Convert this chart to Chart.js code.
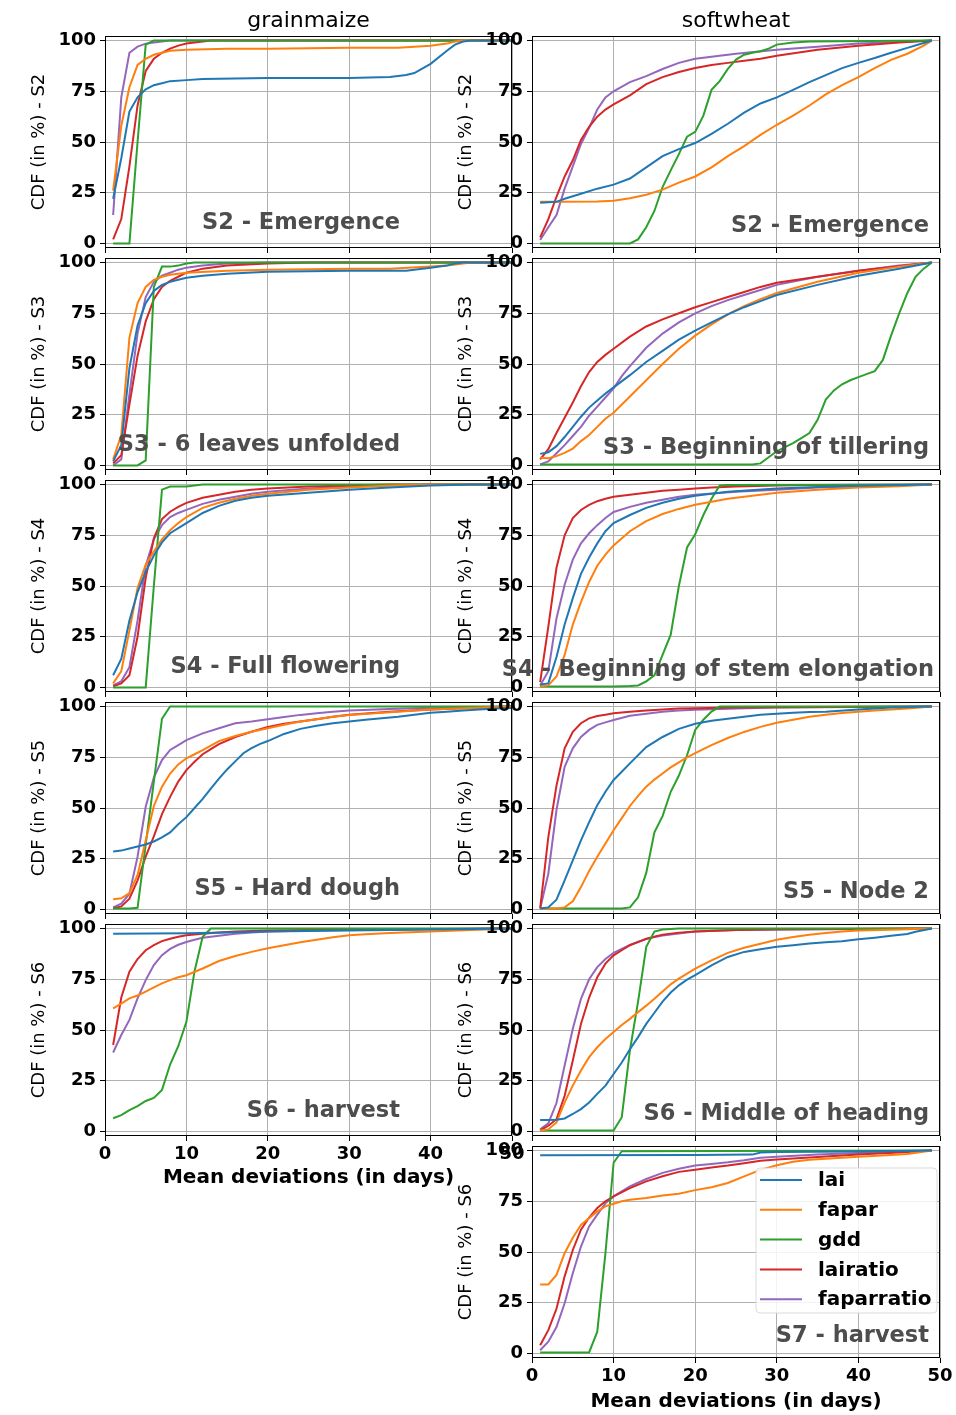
<!DOCTYPE html>
<html><head><meta charset="utf-8">
<script src="https://cdn.jsdelivr.net/npm/chart.js@4.4.1/dist/chart.umd.min.js"></script>
<style>
html,body{margin:0;padding:0;background:#fff;}
body{width:956px;height:1415px;overflow:hidden;position:relative;}
canvas{position:absolute;}
</style></head><body>
<script>
// ---------- labels / ticks ----------
const seriesNames = ['lai','fapar','gdd','lairatio','faparratio'];
const seriesColors = ['#1f77b4','#ff7f0e','#2ca02c','#d62728','#9467bd'];
const xTicks = [0,10,20,30,40,50];
const yTicks = [0,25,50,75,100];
const columnTitles = ['grainmaize','softwheat'];
const xAxisTitle = 'Mean deviations (in days)';

// ---------- grainmaize ----------
const gmS2Lai = [[1,22],[2,42],[3,65],[4,72],[5,76],[6,78],[7,79],[8,80],[10,80.5],[12,81],[20,81.5],[30,81.5],[35,82],[37,83],[38,84],[40,88.5],[42,95],[43,98],[44,99.5],[45,100],[50,100]];
const gmS2Fapar = [[1,26],[2,58],[3,77],[4,88],[5,91],[6,93],[7,94],[8,95],[10,95.5],[15,96],[20,96],[30,96.5],[36,96.5],[38,97],[40,97.5],[42,98.5],[43,99.5],[44,100],[50,100]];
const gmS2Gdd = [[1,0],[2,0],[3,0],[4,50],[5,98],[6,100],[50,100]];
const gmS2Lairatio = [[1,2],[2,12],[3,38],[4,68],[5,85],[6,91],[7,94],[8,96],[9,97.5],[10,98.5],[11,99],[12,99.5],[13,100],[50,100]];
const gmS2Faparratio = [[1,14],[2,72],[3,94],[4,97],[5,98.5],[6,99],[7,99.5],[8,100],[50,100]];

const gmS3Lai = [[1,2],[2,10],[3,48],[4,69],[5,80],[6,86],[7,89],[8,90.5],[9,91.5],[10,92.5],[12,93.5],[15,94.5],[20,95.5],[30,96],[37,96],[40,97.5],[42,98.5],[43,99.5],[44,100],[50,100]];
const gmS3Fapar = [[1,3],[2,15],[3,63],[4,80],[5,88],[6,91.5],[7,93],[8,94],[9,94.5],[10,95],[15,96],[20,96.5],[30,97],[35,97],[40,98],[42,98.5],[44,99.5],[45,100],[50,100]];
const gmS3Gdd = [[1,0],[2,0],[3,0],[4,0],[5,2.5],[6,88],[7,98],[8,98],[9,98.5],[10,99.5],[11,100],[50,100]];
const gmS3Lairatio = [[1,1],[2,5],[3,30],[4,54],[5,71],[6,82],[7,88],[8,91],[9,93],[10,95],[12,97],[15,98.5],[20,99.5],[25,100],[50,100]];
const gmS3Faparratio = [[1,0],[2,3],[3,35],[4,65],[5,83],[6,90.5],[7,93.5],[8,95],[9,96.5],[10,97.5],[12,98.5],[15,99.5],[20,100],[50,100]];

const gmS4Lai = [[1,6],[2,14],[3,33],[4,47],[5,57],[6,65],[7,71.5],[8,76],[9,78.5],[10,81],[12,86],[14,89.5],[16,92],[18,93.5],[20,94.5],[25,96],[30,97.5],[35,98.5],[40,99.5],[45,100],[50,100]];
const gmS4Fapar = [[1,2],[2,8],[3,28],[4,49],[5,60.5],[6,67],[7,73],[8,77.5],[9,81],[10,84],[12,88.5],[14,91],[16,93],[18,94.5],[20,95.5],[25,97.5],[30,98.5],[35,99.5],[40,100],[50,100]];
const gmS4Gdd = [[1,0],[2,0],[3,0],[4,0],[5,0],[6,50],[7,97.5],[8,99],[10,99],[11,99.5],[12,100],[50,100]];
const gmS4Lairatio = [[1,0.5],[2,2],[3,6],[4,25],[5,54],[6,73.5],[7,83],[8,86.6],[9,89],[10,91],[12,93.5],[14,95],[16,96.5],[18,97.5],[20,98],[25,99],[30,99.5],[35,100],[50,100]];
const gmS4Faparratio = [[1,1],[2,3],[3,10],[4,33],[5,60],[6,73],[7,80],[8,84],[9,86],[10,87.5],[12,90.5],[14,92.5],[16,94],[18,95.5],[20,96.5],[25,98],[30,99],[35,99.5],[40,100],[50,100]];

const gmS5Lai = [[1,28.5],[2,29],[3,30],[4,31],[5,32],[6,33.5],[7,35.5],[8,38],[9,42],[10,45.5],[11,50],[12,54.5],[13,59.5],[14,64.5],[15,69],[16,73],[17,77],[18,79.5],[19,81.5],[20,83],[22,86.5],[24,89],[26,90.5],[28,91.8],[30,92.6],[32,93.5],[34,94.2],[36,95],[38,96],[40,97],[42,97.5],[44,98],[46,98.5],[48,99],[50,99.3]];
const gmS5Fapar = [[1,5],[2,5.5],[3,8],[4,17],[5,34],[6,51],[7,60.5],[8,67],[9,71.5],[10,74.5],[11,76.5],[12,78.5],[14,83],[16,85.5],[18,87.6],[20,89.3],[22,91],[24,92.6],[26,93.8],[28,95],[30,95.8],[35,97.2],[40,98.5],[45,99.3],[50,100]];
const gmS5Gdd = [[1,0.5],[2,0.5],[3,0.5],[4,0.8],[5,32],[6,63],[7,94],[8,100],[50,100]];
const gmS5Lairatio = [[1,0.5],[2,1.5],[3,5.3],[4,14.3],[5,26],[6,36],[7,47],[8,55.5],[9,63],[10,68.7],[11,72.8],[12,76.5],[13,79],[14,81.5],[16,85],[18,87.6],[20,90],[22,91.5],[24,92.6],[26,93.8],[28,95],[30,96],[35,97.5],[40,98.5],[45,99.3],[50,100]];
const gmS5Faparratio = [[1,1],[2,2.8],[3,7.7],[4,26],[5,50.6],[6,65],[7,73.6],[8,78.6],[9,81],[10,83.5],[12,86.8],[14,89.3],[16,91.8],[18,92.6],[20,93.7],[22,94.8],[24,95.9],[26,96.7],[28,97.5],[30,98],[35,98.8],[40,99.4],[45,99.7],[50,100]];

const gmS6Lai = [[1,97.5],[10,97.7],[15,98],[20,98.5],[30,99],[40,99.5],[50,100]];
const gmS6Fapar = [[1,60.7],[2,63],[3,65.6],[4,67],[5,68.9],[6,71],[7,73],[8,74.6],[9,76],[10,77],[12,80.3],[14,84],[16,86.5],[18,88.5],[20,90.3],[22,91.8],[24,93.2],[26,94.5],[28,95.7],[30,96.7],[32,97.2],[35,97.8],[40,98.6],[45,99.3],[50,100]];
const gmS6Gdd = [[1,6.5],[2,8],[3,10.5],[4,12.5],[5,15],[6,16.5],[7,20.5],[8,33],[9,42],[10,54],[11,79],[12,96],[13,100],[50,100]];
const gmS6Lairatio = [[1,42.6],[2,66],[3,78.7],[4,85],[5,89.3],[6,91.8],[7,93.8],[8,95],[9,96],[10,96.7],[12,97.5],[14,98],[16,98.5],[20,99],[30,99.5],[50,100]];
const gmS6Faparratio = [[1,38.9],[2,47.5],[3,55],[4,65.6],[5,74.6],[6,82],[7,86.9],[8,90],[9,92],[10,93.4],[11,94.5],[12,95.5],[14,96.5],[16,97.5],[18,98],[20,98.5],[25,99],[30,99.3],[40,99.7],[50,100]];

// ---------- softwheat ----------
const swS2Lai = [[1,20],[3,20.5],[4,22],[6,24.5],[8,27],[10,29],[12,32],[14,37.5],[16,43],[18,46.5],[20,49.5],[22,54],[24,59],[26,64.5],[28,69],[30,72],[32,75.7],[34,79.5],[36,83],[38,86.4],[40,89],[42,91.4],[44,94],[46,96.4],[48,98.8],[49,100]];
const swS2Fapar = [[1,20.5],[4,20.5],[8,20.7],[10,21],[12,22.3],[14,24],[16,26.5],[18,30],[20,33],[22,37.5],[24,43],[26,48],[28,53.5],[30,58.5],[32,63],[34,68],[36,73.5],[38,78],[40,82],[42,86.4],[44,90.5],[46,93.5],[48,97.5],[49,100]];
const swS2Gdd = [[1,0],[12,0],[13,2],[14,8],[15,16],[16,27.8],[17,36],[18,44],[19,52.6],[20,55],[21,63],[22,75.7],[23,80],[24,86],[25,90.6],[26,93],[27,94],[28,94.7],[29,96],[30,98],[32,99],[34,99.5],[49,100]];
const swS2Lairatio = [[1,3],[2,12],[3,23],[4,33],[5,41],[6,51],[7,57.5],[8,62.5],[9,66],[10,68.5],[12,73],[14,78.5],[16,82],[18,84.5],[20,86.5],[22,88],[24,89],[26,90],[28,91],[30,92.5],[35,95.5],[40,97.5],[45,99],[49,100]];
const swS2Faparratio = [[1,1.7],[2,8],[3,14],[4,27],[5,38],[6,49],[7,57],[8,66],[9,72],[10,75],[12,79.5],[14,82.5],[16,86],[18,89],[20,91],[25,93.5],[30,95.5],[35,97],[40,98.5],[45,99.3],[49,100]];

const swS3Lai = [[1,5.7],[2,6.5],[3,9.5],[4,14],[5,19],[6,24],[7,28.5],[8,32],[9,35.5],[10,38.5],[12,44.5],[14,51],[16,56.5],[18,62],[20,66.5],[22,70.5],[24,74.5],[26,78],[28,81],[30,84],[35,89],[40,93.5],[45,97],[49,100]];
const swS3Fapar = [[1,3.8],[2,3.5],[3,4.6],[4,6.2],[5,8.3],[6,12],[7,15],[8,19],[9,23],[10,26],[12,34],[14,42],[16,50],[18,57.5],[20,64],[22,69.5],[24,74.5],[26,78.5],[28,82],[30,85],[35,90.5],[40,95],[45,98],[49,100]];
const swS3Gdd = [[1,0.5],[27,0.5],[28,1],[29,4],[30,7],[31,9],[32,11],[33,13.5],[34,16],[35,22.5],[36,32.5],[37,37],[38,40],[39,42],[40,43.5],[41,45],[42,46.5],[43,52],[44,64],[45,75],[46,85],[47,93],[48,97],[49,100]];
const swS3Lairatio = [[1,3],[2,8],[3,16],[4,23.5],[5,31],[6,39],[7,46],[8,51],[9,54.5],[10,57.5],[12,63.5],[14,68.5],[16,72],[18,75],[20,78],[22,80.5],[24,83],[26,85.5],[28,88],[30,90],[35,93],[40,96],[45,98.2],[49,100]];
const swS3Faparratio = [[1,0.5],[2,2],[3,6],[4,10],[5,14.5],[6,19],[7,24.5],[8,29],[9,33.5],[10,38],[11,44],[12,49],[14,58],[16,65],[18,70.5],[20,75],[22,78.5],[24,81.5],[26,84],[28,86.5],[30,89],[35,93],[40,96],[45,98.5],[49,100]];

const swS4Lai = [[1,1.5],[2,2],[3,15],[4,31],[5,44],[6,56],[7,64],[8,71],[9,77],[10,81],[12,85],[14,88.5],[16,91],[18,93],[20,94.5],[24,96.5],[30,98],[35,98.8],[40,99.4],[49,100]];
const swS4Fapar = [[1,0.5],[2,1],[3,5.4],[4,16],[5,31],[6,42],[7,52],[8,60],[9,65.5],[10,70],[12,77],[14,82],[16,85.5],[18,88],[20,90],[22,91.5],[24,93],[26,94],[28,95],[30,96],[35,97.5],[40,98.5],[45,99.2],[49,100]];
const swS4Gdd = [[1,0.5],[10,0.5],[12,0.7],[13,1],[14,3],[15,6],[16,16],[17,26],[18,50],[19,69],[20,75.5],[21,85],[22,93],[23,99.5],[24,99.8],[49,100]];
const swS4Lairatio = [[1,2.6],[2,30],[3,59],[4,75],[5,83.5],[6,87.5],[7,90],[8,91.8],[9,93],[10,94],[12,95],[14,96],[16,97],[18,97.5],[20,98],[22,98.5],[25,99],[30,99.5],[35,99.8],[49,100]];
const swS4Faparratio = [[1,1],[2,8],[3,34],[4,50.6],[5,63],[6,71],[7,76],[8,80],[9,83.5],[10,86.5],[12,89],[14,91],[16,92.5],[18,94],[20,95],[25,96.5],[30,97.5],[35,98.5],[40,99.2],[49,100]];

const swS5Lai = [[1,0.5],[2,1],[3,4.8],[4,14.3],[5,24.2],[6,34],[7,43],[8,51.4],[9,58],[10,63.8],[11,67.9],[12,72],[14,80],[16,85],[18,89],[20,91.5],[22,93],[24,94],[26,95],[28,96],[30,96.5],[32,97],[34,97.3],[36,97.5],[40,98.5],[44,99.5],[49,100]];
const swS5Fapar = [[1,0.5],[3,0.5],[4,1],[5,4],[6,11],[7,19],[8,26],[9,32.5],[10,39],[11,45],[12,51],[13,56],[14,60.5],[15,64],[16,67],[17,70],[18,72.5],[19,75],[20,77],[21,79],[22,81],[24,84.5],[26,87.5],[28,90],[30,92],[32,93.5],[34,95],[36,96],[38,96.8],[40,97.5],[42,98],[44,98.5],[46,99],[49,100]];
const swS5Gdd = [[1,0.5],[11,0.5],[12,1],[13,6],[14,18],[15,38],[16,46],[17,58],[18,66],[19,76],[20,88.5],[21,93.5],[22,97.5],[23,100],[49,100]];
const swS5Lairatio = [[1,0.5],[2,35.7],[3,61],[4,79.4],[5,87.6],[6,91.8],[7,94.2],[8,95.3],[9,96],[10,96.7],[12,97.5],[14,98],[16,98.5],[18,99],[20,99.2],[25,99.5],[30,99.7],[49,100]];
const swS5Faparratio = [[1,0.5],[2,17.6],[3,49],[4,70.3],[5,79.4],[6,85],[7,88.5],[8,91],[9,92.2],[10,93.4],[12,95.5],[14,96.5],[16,97.5],[18,98],[20,98.4],[25,99],[30,99.5],[49,100]];

const swS6Lai = [[1,5.6],[2,5.6],[3,5.8],[4,6.4],[5,8.6],[6,11],[7,14.3],[8,18.5],[9,22.6],[10,28.3],[11,34],[12,40.5],[13,46.5],[14,53],[15,58.5],[16,64],[17,68.5],[18,72],[19,74.8],[20,77],[22,81.9],[24,86],[26,88.5],[28,89.8],[30,91],[32,91.8],[34,92.6],[36,93.2],[38,93.7],[40,94.7],[42,95.5],[44,96.4],[46,97.3],[47,98.4],[49,100]];
const swS6Fapar = [[1,0.5],[2,1],[3,4.4],[4,14.3],[5,22.6],[6,30],[7,36.6],[8,41.5],[9,45.6],[10,49],[11,52.5],[12,55.5],[13,58.8],[14,62],[15,65.4],[16,69],[17,72.5],[18,75.3],[19,77.8],[20,80.2],[22,84.3],[24,88],[26,90.5],[28,92.5],[30,94.5],[32,95.8],[34,97],[36,97.8],[38,98.5],[40,99],[45,99.5],[49,100]];
const swS6Gdd = [[1,0.5],[10,0.5],[11,7],[12,40],[13,64],[14,91],[15,98.5],[16,99.5],[18,100],[49,100]];
const swS6Lairatio = [[1,0.5],[2,2.8],[3,6],[4,17.6],[5,35],[6,53],[7,66],[8,76],[9,82.7],[10,86.8],[11,89.3],[12,91.8],[13,93.3],[14,95],[15,96],[16,97],[18,98],[20,98.6],[25,99.3],[30,99.7],[49,100]];
const swS6Faparratio = [[1,1],[2,4],[3,14],[4,32.5],[5,50.6],[6,65.4],[7,75],[8,81],[9,85],[10,88],[11,90],[12,92],[13,93.5],[14,94.8],[15,95.8],[16,96.6],[18,97.6],[20,98.5],[25,99.3],[49,100]];

const swS7Lai = [[1,97.7],[20,97.8],[27,98],[28,99],[30,99.3],[40,99.6],[49,100]];
const swS7Fapar = [[1,34],[2,34],[3,38.7],[4,49.4],[5,57],[6,63.4],[7,66.7],[8,70],[9,72.5],[10,73.8],[11,75],[12,75.8],[14,76.6],[16,77.8],[18,78.7],[20,80.5],[22,81.9],[24,84],[26,87.3],[28,90.5],[30,92.8],[32,94.5],[34,95.5],[36,96],[38,96.5],[40,97],[44,97.8],[46,98.3],[49,100]];
const swS7Gdd = [[1,0.5],[7,0.5],[8,10.7],[9,49.4],[10,94],[11,99.7],[49,100]];
const swS7Lairatio = [[1,4],[2,11.5],[3,22],[4,38],[5,51],[6,61],[7,67],[8,71.7],[9,75],[10,77.4],[12,81.5],[14,84.8],[16,87.3],[18,89.5],[20,90.6],[22,91.6],[24,92.6],[26,93.8],[28,95],[30,95.6],[35,96.8],[40,98],[45,99],[49,100]];
const swS7Faparratio = [[1,1.6],[2,5.8],[3,13],[4,24.7],[5,39.5],[6,52.7],[7,62.6],[8,68.4],[9,74],[10,77.4],[12,82.4],[14,86],[16,89],[18,91],[20,92.6],[22,93.4],[24,94.2],[26,95.2],[28,96.4],[30,97],[35,98],[40,98.8],[45,99.4],[49,100]];

// ---------- panels ----------
const panels = [
  {col:0,row:0,axis:'S2',label:'S2 - Emergence',series:[gmS2Lai,gmS2Fapar,gmS2Gdd,gmS2Lairatio,gmS2Faparratio]},
  {col:0,row:1,axis:'S3',label:'S3 - 6 leaves unfolded',series:[gmS3Lai,gmS3Fapar,gmS3Gdd,gmS3Lairatio,gmS3Faparratio]},
  {col:0,row:2,axis:'S4',label:'S4 - Full flowering',series:[gmS4Lai,gmS4Fapar,gmS4Gdd,gmS4Lairatio,gmS4Faparratio]},
  {col:0,row:3,axis:'S5',label:'S5 - Hard dough',series:[gmS5Lai,gmS5Fapar,gmS5Gdd,gmS5Lairatio,gmS5Faparratio]},
  {col:0,row:4,axis:'S6',label:'S6 - harvest',series:[gmS6Lai,gmS6Fapar,gmS6Gdd,gmS6Lairatio,gmS6Faparratio],bottom:true},
  {col:1,row:0,axis:'S2',label:'S2 - Emergence',series:[swS2Lai,swS2Fapar,swS2Gdd,swS2Lairatio,swS2Faparratio]},
  {col:1,row:1,axis:'S3',label:'S3 - Beginning of tillering',series:[swS3Lai,swS3Fapar,swS3Gdd,swS3Lairatio,swS3Faparratio]},
  {col:1,row:2,axis:'S4',label:'S4 - Beginning of stem elongation',series:[swS4Lai,swS4Fapar,swS4Gdd,swS4Lairatio,swS4Faparratio],inset:6},
  {col:1,row:3,axis:'S5',label:'S5 - Node 2',series:[swS5Lai,swS5Fapar,swS5Gdd,swS5Lairatio,swS5Faparratio]},
  {col:1,row:4,axis:'S6',label:'S6 - Middle of heading',series:[swS6Lai,swS6Fapar,swS6Gdd,swS6Lairatio,swS6Faparratio]},
  {col:1,row:5,axis:'S6',label:'S7 - harvest',series:[swS7Lai,swS7Fapar,swS7Gdd,swS7Lairatio,swS7Faparratio],bottom:true,legend:true}
];

const FONT = '"DejaVu Sans"';
Chart.defaults.font.family = FONT;
Chart.defaults.color = '#000';

const decor = {
  id: 'decor',
  afterDraw(chart, args, o) {
    const ctx = chart.ctx, a = chart.chartArea;
    ctx.save();
    if (o.legend) {
      const bx = a.left + 224, by = a.top + 22, bw = 181, bh = 145;
      ctx.beginPath();
      if (ctx.roundRect) ctx.roundRect(bx, by, bw, bh, 4); else ctx.rect(bx, by, bw, bh);
      ctx.fillStyle = 'rgba(255,255,255,0.85)';
      ctx.fill();
      ctx.strokeStyle = 'rgba(210,210,210,0.8)';
      ctx.lineWidth = 1;
      ctx.stroke();
      chart.data.datasets.forEach((ds, i) => {
        const y = a.top + 34 + i * 29.8;
        ctx.strokeStyle = ds.borderColor;
        ctx.lineWidth = 2;
        ctx.beginPath();
        ctx.moveTo(a.left + 228, y);
        ctx.lineTo(a.left + 270, y);
        ctx.stroke();
        ctx.fillStyle = '#000';
        ctx.font = 'bold 20px ' + FONT;
        ctx.textAlign = 'left';
        ctx.textBaseline = 'middle';
        ctx.fillText(ds.label, a.left + 286, y + 1);
      });
    }
    ctx.font = 'bold 22.5px ' + FONT;
    ctx.fillStyle = '#4d4d4d';
    ctx.textAlign = 'right';
    ctx.textBaseline = 'alphabetic';
    if (o.col === 0) ctx.fillText(o.label, a.left + 295, a.top + 192.5);
    else ctx.fillText(o.label, a.right - o.inset, a.top + 195.5);
    ctx.strokeStyle = '#000';
    ctx.lineWidth = 1;
    ctx.strokeRect(a.left + 0.5, a.top + 0.5, a.right - a.left - 1, a.bottom - a.top - 1);
    ctx.restore();
  }
};

const PLOT_H = 212, ROW_STEP = 222, TOP0 = 36, YW = 76, PADR = 16;
const colLeft = [105, 532], colWidth = [407, 408];

panels.forEach(p => {
  const L = colLeft[p.col], W = colWidth[p.col];
  const T = TOP0 + p.row * ROW_STEP;
  const hasTitle = p.row === 0;
  const topPad = hasTitle ? 0 : 14;
  const titleH = hasTitle ? 28 : 0;
  const XH = p.bottom ? (p.col === 0 ? 54 : 56) : 10;
  const cw = YW + W + PADR;
  const ch = topPad + titleH + PLOT_H + XH;
  const cv = document.createElement('canvas');
  cv.width = cw; cv.height = ch;
  cv.style.width = cw + 'px'; cv.style.height = ch + 'px';
  cv.style.left = (L - YW) + 'px';
  cv.style.top = (T - topPad - titleH) + 'px';
  document.body.appendChild(cv);

  const datasets = p.series.map((s, i) => ({
    label: seriesNames[i],
    data: s.map(([x, y]) => ({x, y})),
    borderColor: seriesColors[i],
    backgroundColor: seriesColors[i],
    borderWidth: 2,
    pointRadius: 0,
    tension: 0,
    fill: false
  }));

  new Chart(cv, {
    type: 'line',
    data: {datasets},
    options: {
      responsive: false,
      animation: false,
      events: [],
      layout: {padding: {top: topPad, right: PADR, left: 0, bottom: 0}},
      plugins: {
        legend: {display: false},
        tooltip: {enabled: false},
        title: {
          display: hasTitle,
          text: columnTitles[p.col],
          fullSize: false,
          color: '#000',
          font: {family: FONT, size: 22, weight: 'normal'},
          padding: {top: 0, bottom: 1.6}
        },
        decor: {label: p.label, col: p.col, inset: p.inset || 11, legend: !!p.legend}
      },
      scales: {
        x: {
          type: 'linear', min: 0, max: 50,
          afterBuildTicks: ax => { ax.ticks = xTicks.map(v => ({value: v})); },
          afterFit: ax => { ax.height = XH; ax.paddingLeft = 0; ax.paddingRight = 0; },
          ticks: {display: !!p.bottom, autoSkip: false, maxRotation: 0, padding: 3, color: '#000',
                  font: {family: FONT, size: 18, weight: 'bold'}},
          grid: {color: '#b0b0b0', lineWidth: 1, tickLength: 5, tickColor: '#000', tickWidth: 1},
          border: {display: false},
          title: {display: !!p.bottom, text: xAxisTitle, color: '#000', padding: 0,
                  font: {family: FONT, size: 20, weight: 'bold'}}
        },
        y: {
          type: 'linear', min: -2.25, max: 102.25,
          afterBuildTicks: ax => { ax.ticks = yTicks.map(v => ({value: v})); },
          afterFit: ax => { ax.width = YW; ax.paddingTop = 0; ax.paddingBottom = 0; },
          ticks: {padding: 4, color: '#000', autoSkip: false, font: {family: FONT, size: 18, weight: 'bold'}},
          grid: {color: '#b0b0b0', lineWidth: 1, tickLength: 5, tickColor: '#000', tickWidth: 1},
          border: {display: false},
          title: {display: true, text: 'CDF (in %) - ' + p.axis, color: '#000', padding: 0,
                  font: {family: FONT, size: 18, weight: 'normal'}}
        }
      }
    },
    plugins: [decor]
  });
});
</script>
</body></html>
